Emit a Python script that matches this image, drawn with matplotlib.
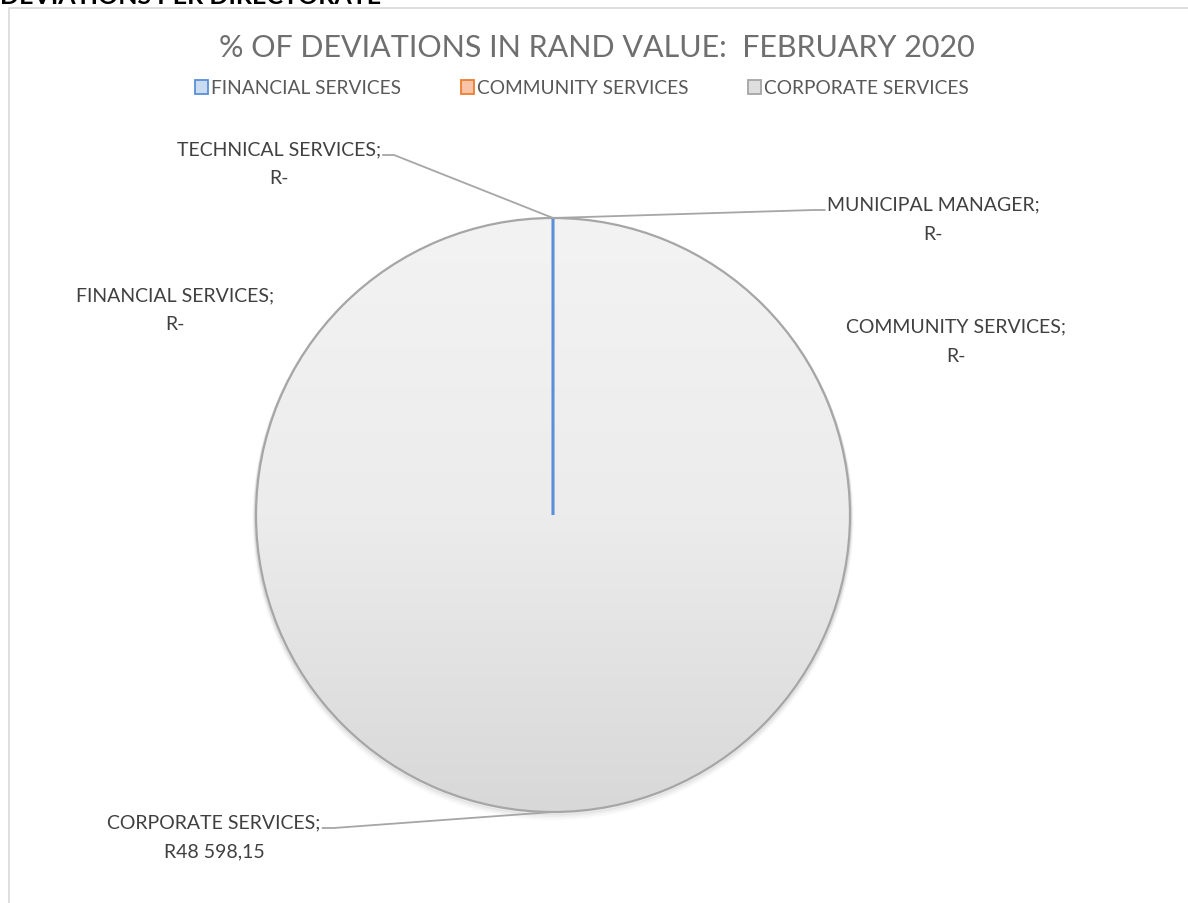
import numpy as np
import matplotlib
matplotlib.use("Agg")
import matplotlib.pyplot as plt
from matplotlib.patches import Rectangle, Circle, Patch
from matplotlib.lines import Line2D

# ---- data ----
directorates = ["FINANCIAL SERVICES", "COMMUNITY SERVICES", "CORPORATE SERVICES",
                "TECHNICAL SERVICES", "MUNICIPAL MANAGER"]
rand_values = [0.0, 0.0, 48598.15, 0.0, 0.0]
edge_colors = ["#5b8fd6", "#ed7d31", "#a5a5a5", "#ffc000", "#4472c4"]
legend_faces = ["#c9dcf2", "#f8c3a6", "#dedede"]
legend_count = 3
title = "% OF DEVIATIONS IN RAND VALUE:  FEBRUARY 2020"
header = "DEVIATIONS PER DIRECTORATE"

W, H = 1188, 904
FONT = ["Lato", "DejaVu Sans"]


def py(y):
    """pixel row (from top) -> data y"""
    return H - y


def rand_fmt(v):
    if v == 0:
        return "R-"
    s = f"{v:,.2f}".replace(",", " ").replace(".", ",")
    return "R" + s


fig = plt.figure(figsize=(W / 100, H / 100), dpi=100)
ax = fig.add_axes([0, 0, 1, 1])

# chart area frame
ax.add_patch(Rectangle((9, -20), W + 40, py(9) + 20, facecolor="white",
                       edgecolor="#d9d9d9", linewidth=1.2, zorder=0))

cx, cy, R = 553, py(516), 297

# soft shadow below the pie
for i, a in enumerate([0.14, 0.09, 0.05, 0.03]):
    ax.add_patch(Circle((cx, cy - 1.5 - i), R + 0.5 + i * 0.6, facecolor="none",
                        edgecolor="#7f7f7f", alpha=a, linewidth=2.0, zorder=1))

wedges, _ = ax.pie(rand_values, startangle=90, counterclock=False,
                   radius=R, center=(cx, cy), normalize=True,
                   wedgeprops=dict(linewidth=0))
ax.set_xlim(0, W)
ax.set_ylim(0, H)
ax.set_aspect("equal")
ax.axis("off")

# vertical gradient fill, clipped to each non-empty wedge
grad = np.linspace(0, 1, 256)[:, None]
grad_cmap = matplotlib.colors.LinearSegmentedColormap.from_list(
    "g", ["#f3f3f3", "#ececec", "#d8d8d8"])
for w, v in zip(wedges, rand_values):
    w.set_facecolor("none")
    if v > 0:
        w.set_edgecolor("#a6a6a6")
        w.set_linewidth(1.6)
        w.set_zorder(3)
        im = ax.imshow(grad, cmap=grad_cmap, aspect="auto",
                       extent=(cx - R, cx + R, cy - R, cy + R),
                       origin="upper", zorder=2)
        im.set_clip_path(w)
    else:
        w.set_zorder(4)
wedges[0].set_edgecolor(edge_colors[0])
wedges[0].set_linewidth(2.2)

# data labels with leader lines
label_pos = {
    "FINANCIAL SERVICES": (175, 296, None),
    "COMMUNITY SERVICES": (956, 327, None),
    "CORPORATE SERVICES": (214, 823, "left"),
    "TECHNICAL SERVICES": (279, 150, "left"),
    "MUNICIPAL MANAGER": (933, 205, "right"),
}
renderer = fig.canvas.get_renderer()
inv = ax.transData.inverted()
for name, v, w in zip(directorates, rand_values, wedges):
    lx, ly, side = label_pos[name]
    t1 = ax.text(lx, py(ly), f"{name};", ha="center", va="center",
                 fontsize=14, color="#404040", family=FONT, zorder=6)
    ax.text(lx, py(ly + 29), rand_fmt(v), ha="center", va="center",
            fontsize=14, color="#404040", family=FONT, zorder=6)
    if side is not None:
        bb = t1.get_window_extent(renderer)
        (x0, _), (x1, _) = inv.transform([(bb.x0, bb.y0), (bb.x1, bb.y1)])
        mid = np.deg2rad((w.theta1 + w.theta2) / 2)
        ax_, ay_ = cx + R * np.cos(mid), cy + R * np.sin(mid)
        if side == "left":
            ex, kx = x1 + 2, x1 + 13
        else:
            ex, kx = x0 - 2, x0 - 13
        ax.add_line(Line2D([ex, kx, ax_], [py(ly + 6), py(ly + 6), ay_],
                           color="#a6a6a6", linewidth=1.3, zorder=5))

# title and legend
fig.text(597 / W, 1 - 48 / H, title, ha="center", va="center",
         fontsize=22, color="#6f6f6f", family=FONT)
handles = [Patch(facecolor=f, edgecolor=e, linewidth=1.3)
           for f, e in zip(legend_faces, edge_colors[:legend_count])]
fig.legend(handles, directorates[:legend_count], loc="center",
           bbox_to_anchor=(582 / W, 1 - 89 / H), ncol=legend_count,
           frameon=False, handlelength=0.7, handleheight=0.7,
           handletextpad=0.15, columnspacing=3.1,
           prop=dict(family=FONT, size=13.8), labelcolor="#595959")

# section heading above the chart (cut by the page edge)
fig.text(0, 1 - 4 / H, header, ha="left", va="baseline", fontsize=18,
         fontweight="bold", color="black", family=FONT)

fig.savefig("out.png", dpi=100)
